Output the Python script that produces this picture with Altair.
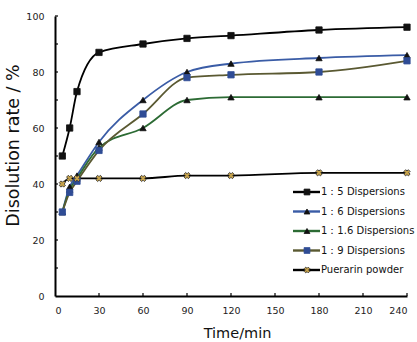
import altair as alt
import pandas as pd

times = [5, 10, 15, 30, 60, 90, 120, 180, 240]
series_names = ["1：5 Dispersions", "1：6 Dispersions", "1：1.6 Dispersions",
                "1：9 Dispersions", "Puerarin powder"]
values = [
    [50, 60, 73, 87, 90, 92, 93, 95, 96],
    [30, 39, 43, 55, 70, 80, 83, 85, 86],
    [30, 38, 42, 53, 60, 70, 71, 71, 71],
    [30, 37, 41, 52, 65, 78, 79, 80, 84],
    [40, 42, 42, 42, 42, 43, 43, 44, 44],
]
line_colors = ["#000000", "#3a5ca6", "#2c6b34", "#5a5932", "#000000"]
marker_fill = ["#111111", "#111111", "#111111", "#2f4c95", "#c6a24a"]
marker_stroke = ["#111111", "#111111", "#111111", "#2f4c95", "#333333"]
marker_shape = ["square", "triangle-up", "triangle-up", "square", "cross"]
marker_angle = [0, 0, 0, 0, 45]
x_ticks = [0, 30, 60, 90, 120, 150, 180, 210, 240]
y_ticks = [0, 10, 20, 30, 40, 50, 60, 70, 80, 90, 100]

rows = []
for i, name in enumerate(series_names):
    for t, v in zip(times, values[i]):
        rows.append(dict(series=name, order=i, time=t, value=v,
                         line_color=line_colors[i], fill=marker_fill[i],
                         mstroke=marker_stroke[i], shape=marker_shape[i],
                         angle=marker_angle[i]))
df = pd.DataFrame(rows)
leg = pd.DataFrame(dict(series=series_names, line_color=line_colors, fill=marker_fill,
                        mstroke=marker_stroke, shape=marker_shape, angle=marker_angle))
xt = pd.DataFrame(dict(t=x_ticks[1:]))
yt = pd.DataFrame(dict(v=y_ticks[1:]))

W, H = 352, 280
FONT = "DejaVu Sans"

xscale = alt.Scale(domain=[0, 240], nice=False)
yscale = alt.Scale(domain=[0, 100], nice=False)

xenc = alt.X("time:Q", scale=xscale,
             axis=alt.Axis(values=x_ticks, title="Time/min", ticks=False, grid=False,
                           domainColor="#000", domainWidth=2, labelFont=FONT,
                           labelFontSize=9.5, labelColor="#222", labelPadding=9,
                           titleFont=FONT, titleFontSize=14.5, titleFontWeight="normal",
                           titleColor="#111", titleX=182, titleY=44,
                           titleBaseline="bottom", titleAlign="center"))
yenc = alt.Y("value:Q", scale=yscale,
             axis=alt.Axis(values=[0, 20, 40, 60, 80, 100], title="Disolution rate / %",
                           ticks=False, grid=False, domainColor="#000", domainWidth=2,
                           labelFont=FONT, labelFontSize=9.5, labelColor="#222",
                           labelPadding=11, titleFont=FONT, titleFontSize=17.5,
                           titleFontWeight="normal", titleColor="#111", titleX=-42,
                           titleY=129, titleAngle=270, titleAlign="center",
                           titleBaseline="middle"))

lines = alt.Chart(df).mark_line(interpolate="monotone", strokeWidth=1.8).encode(
    x=xenc, y=yenc,
    stroke=alt.Stroke("line_color:N", scale=None),
    detail="series:N",
    order="time:Q",
)
points = alt.Chart(df).mark_point(filled=True, size=40, strokeWidth=0.8, opacity=1).encode(
    x=alt.X("time:Q", scale=xscale), y=alt.Y("value:Q", scale=yscale),
    fill=alt.Fill("fill:N", scale=None),
    stroke=alt.Stroke("mstroke:N", scale=None),
    shape=alt.Shape("shape:N", scale=None),
    angle=alt.Angle("angle:Q", scale=None),
)
xtick = alt.Chart(xt).mark_rule(color="#000", strokeWidth=1.2).encode(
    x=alt.X("t:Q", scale=xscale), y=alt.value(H), y2=alt.value(H - 3))
ytick = alt.Chart(yt).mark_rule(color="#000", strokeWidth=1.2).encode(
    y=alt.Y("v:Q", scale=yscale), x=alt.value(0), x2=alt.value(3))

main = alt.layer(lines, points, xtick, ytick)

lyenc = alt.Y("series:N", sort=series_names,
              scale=alt.Scale(type="point", range=[176, 254], padding=0), axis=None)
lrule = alt.Chart(leg).mark_rule(strokeWidth=2.4).encode(
    x=alt.value(238), x2=alt.value(265), y=lyenc,
    stroke=alt.Stroke("line_color:N", scale=None))
lpts = alt.Chart(leg).mark_point(filled=True, size=34, strokeWidth=0.8, opacity=1).encode(
    x=alt.value(252), y=lyenc,
    fill=alt.Fill("fill:N", scale=None),
    stroke=alt.Stroke("mstroke:N", scale=None),
    shape=alt.Shape("shape:N", scale=None),
    angle=alt.Angle("angle:Q", scale=None))
ltext = alt.Chart(leg).mark_text(align="left", baseline="middle", font=FONT,
                                 fontSize=10, color="#111").encode(
    x=alt.value(266), y=lyenc, text="series:N")
legend = alt.layer(lrule, lpts, ltext)

chart = alt.layer(main, legend).resolve_scale(y="independent").properties(
    width=W, height=H,
    padding={"left": 55, "top": 16, "right": 10, "bottom": 46},
    autosize=alt.AutoSizeParams(type="none"),
    background="white",
).configure_view(stroke=None)

chart.save("out.html", embed_options={"renderer": "svg", "actions": False})
